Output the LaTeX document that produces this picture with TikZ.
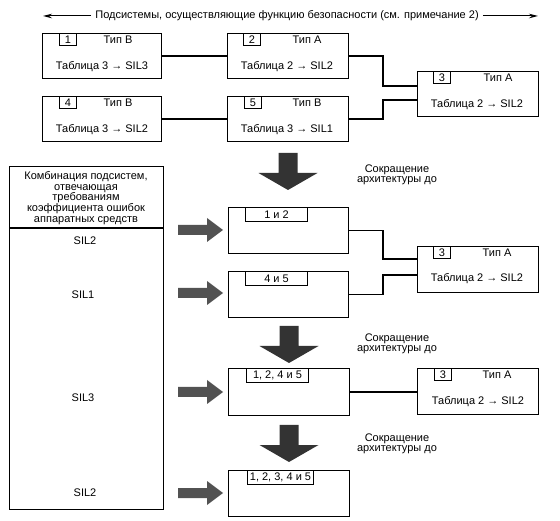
\documentclass[tikz,border=0pt]{standalone}
\usepackage{fontspec}
\setmainfont{Liberation Sans}
\usetikzlibrary{arrows.meta}
\begin{document}
\begin{tikzpicture}[x=1pt,y=-1pt,
  every node/.style={font=\fontsize{11}{10.6}\selectfont},
  box/.style={draw, line width=1.1pt, anchor=north west, inner sep=0pt, minimum width=120, minimum height=45},
  lbl/.style={draw, line width=1pt, anchor=north west, inner sep=0pt, minimum width=17, minimum height=12},
  wlbl/.style={draw, line width=1pt, anchor=north west, inner sep=0pt, minimum width=62, minimum height=14},
  txt/.style={inner sep=1pt},
  conn/.style={line width=1.1pt},
  fatfill/.style={fill=black!80},
  sidefill/.style={fill=black!68},
  fatdown/.pic={\fill[fatfill] (-9.5,0) -- (9.5,0) -- (9.5,20) -- (29.5,20) -- (0,37) -- (-29.5,20) -- (-9.5,20) -- cycle;},
  fatright/.pic={\fill[sidefill] (0,-5) -- (29,-5) -- (29,-12) -- (45,0) -- (29,12) -- (29,5) -- (0,5) -- cycle;}
]
\useasboundingbox (0,0) rectangle (560,521);

% top caption
\node[txt, inner sep=4pt] (top) at (287,16) {Подсистемы, осуществляющие функцию безопасности (см. примечание 2)};
\coordinate (tl) at (43,16);
\coordinate (tr) at (538,16);
\draw[line width=1pt, -{Stealth[length=9,width=4.5]}] (top.west) -- (tl);
\draw[line width=1pt, -{Stealth[length=9,width=4.5]}] (top.east) -- (tr);

% first row of subsystems
\node[box, minimum width=119] (b1) at (42,33) {};
\node[lbl] (l1) at (59,33) {1};
\node[txt] (ty1) at (118,40) {Тип В};
\node[txt] (tb1) at (102,67) {Таблица 3 → SIL3};

\node[box, minimum width=121] (b2) at (227,33) {};
\node[lbl] (l2) at (243,33) {2};
\node[txt] (ty2) at (307,40) {Тип А};
\node[txt] (tb2) at (287,67) {Таблица 2 → SIL2};

\node[box, minimum width=119] (b4) at (42,96) {};
\node[lbl] (l4) at (59,96) {4};
\node[txt] (ty4) at (118,103) {Тип В};
\node[txt] (tb4) at (102,130) {Таблица 3 → SIL2};

\node[box, minimum width=121] (b5) at (227,96) {};
\node[lbl] (l5) at (244,96) {5};
\node[txt] (ty5) at (307,103) {Тип В};
\node[txt] (tb5) at (287,130) {Таблица 3 → SIL1};

\node[box, minimum width=121] (b3) at (417,71) {};
\node[lbl] (l3) at (433,71) {3};
\node[txt] (ty3) at (498,78) {Тип А};
\node[txt] (tb3) at (477,105) {Таблица 2 → SIL2};

\draw[conn] (b1.east) -- (b2.west);
\draw[conn] (b4.east) -- (b5.west);
\coordinate (j1) at (383,86);
\coordinate (j2) at (383,100);
\draw[conn] (b2.east) -| (j1) -- (b3.west |- j1);
\draw[conn] (b5.east) -| (j2) -- (b3.west |- j2);

% left table
\node[box, minimum width=154, minimum height=343] (L) at (9,166) {};
\coordinate (d1) at (9,228);
\draw[line width=1.1pt] (d1) -- (d1 -| L.east);
\node[txt, align=center] (hdr) at (86,198) {Комбинация подсистем,\\отвечающая\\требованиям\\коэффициента ошибок\\аппаратных средств};
\node[txt] (s1) at (85,241) {SIL2};
\node[txt] (s2) at (83,295) {SIL1};
\node[txt] (s3) at (83,398) {SIL3};
\node[txt] (s4) at (85,493) {SIL2};

% reduction 1
\pic at (288,153) {fatdown};
\node[txt, align=center] (r1) at (397,175) {Сокращение\\архитектуры до};

\node[box, minimum width=120, minimum height=46] (c12) at (228,207) {};
\node[wlbl] (lc12) at (245,207) {1 и 2};
\node[box, minimum width=120, minimum height=46] (c45) at (228,271) {};
\node[wlbl] (lc45) at (245,271) {4 и 5};
\node[box, minimum width=121, minimum height=46] (b3b) at (417,246) {};
\node[lbl] (l3b) at (433,246) {3};
\node[txt] (ty3b) at (497,253) {Тип А};
\node[txt] (tb3b) at (477,279) {Таблица 2 → SIL2};
\coordinate (j3) at (383,259);
\coordinate (j4) at (383,275);
\draw[conn] (c12.east) -| (j3) -- (b3b.west |- j3);
\draw[conn] (c45.east) -| (j4) -- (b3b.west |- j4);

\pic at (178,230) {fatright};
\pic at (178,293) {fatright};

% reduction 2
\pic at (289,326) {fatdown};
\node[txt, align=center] (r2) at (397,344) {Сокращение\\архитектуры до};
\node[box, minimum width=121, minimum height=47] (c1245) at (228,368) {};
\node[wlbl] (lc1245) at (246,368) {1, 2, 4 и 5};
\node[box, minimum width=121, minimum height=46] (b3c) at (417,368) {};
\node[lbl] (l3c) at (434,368) {3};
\node[txt] (ty3c) at (497,375) {Тип А};
\node[txt] (tb3c) at (478,402) {Таблица 2 → SIL2};
\draw[conn] (c1245.east) -- (b3c.west |- c1245.east);
\pic at (178,392) {fatright};

% reduction 3
\pic at (289,425) {fatdown};
\node[txt, align=center] (r3) at (397,444) {Сокращение\\архитектуры до};
\node[box, minimum width=121, minimum height=46] (call) at (228,470) {};
\node[wlbl, minimum width=66] (lcall) at (247,470) {1, 2, 3, 4 и 5};
\pic at (178,493) {fatright};
\end{tikzpicture}
\end{document}
